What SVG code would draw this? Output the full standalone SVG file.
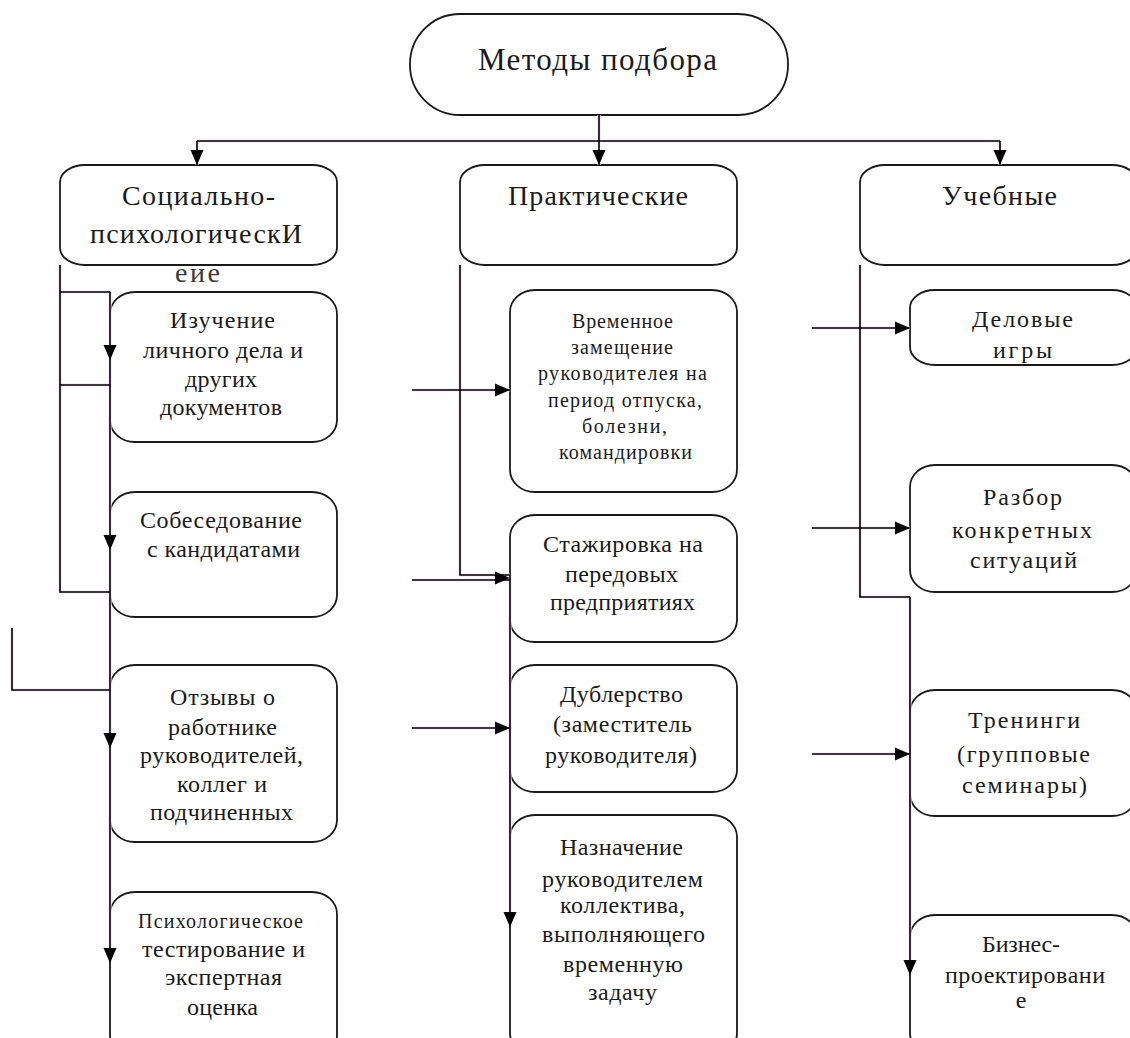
<svg xmlns="http://www.w3.org/2000/svg" xmlns:xlink="http://www.w3.org/1999/xlink" width="1130" height="1038" viewBox="0 0 1130 1038">
<style>
  .box { fill: #ffffff; stroke: #1a1a1a; stroke-width: 1.8; }
  .t { font-family: "Liberation Serif", "DejaVu Serif", serif; fill: #1a1a1a; text-anchor: middle; }
  .t30 { font-size: 31px; }
  .t26 { font-size: 28px; }
  .t22 { font-size: 24px; }
  .t20 { font-size: 20px; }
  .ghost { fill: #3a3a3a; }
  .ink { fill: none; stroke: #000000; stroke-width: 1.6; }
  .halo { fill: none; stroke: #f7dff7; stroke-width: 3.2; }
  .ah { fill: #000000; }
</style>
<defs>
  <path id="ahD" d="M0,0 L-6.5,-15 L6.5,-15 Z"/>
  <path id="ahR" d="M0,0 L-15,-6.5 L-15,6.5 Z"/>
</defs>

<g id="n-root">
  <rect class="box" x="410" y="14" width="378" height="101" rx="50" ry="50"/>
  <text class="t t30" x="597.5" y="70" textLength="239" lengthAdjust="spacing">Методы подбора</text>
</g>

<g id="n-social">
  <rect class="box" x="60" y="165" width="277" height="100" rx="25" ry="17"/>
  <text class="t t26" x="198.5" y="205" textLength="153" lengthAdjust="spacing">Социально-</text>
  <text class="t t26" x="196" y="243" textLength="212" lengthAdjust="spacing">психологическИ</text>
  <text class="t t26 ghost" x="197.5" y="282" textLength="45" lengthAdjust="spacing">еие</text>
</g>

<g id="n-practical">
  <rect class="box" x="460" y="165" width="277" height="100" rx="25" ry="17"/>
  <text class="t t26" x="598" y="205" textLength="180" lengthAdjust="spacing">Практические</text>
</g>

<g id="n-study">
  <rect class="box" x="860" y="165" width="277" height="100" rx="25" ry="17"/>
  <text class="t t26" x="999.5" y="205" textLength="115" lengthAdjust="spacing">Учебные</text>
</g>

<g id="n-docs">
  <rect class="box" x="110" y="292" width="227" height="150" rx="25" ry="22"/>
  <text class="t t22" x="222.5" y="328" textLength="105" lengthAdjust="spacing">Изучение</text>
  <text class="t t22" x="223" y="358" textLength="160" lengthAdjust="spacing">личного дела и</text>
  <text class="t t22" x="221" y="387" textLength="72" lengthAdjust="spacing">других</text>
  <text class="t t22" x="221" y="415" textLength="122" lengthAdjust="spacing">документов</text>
</g>

<g id="n-interview">
  <rect class="box" x="110" y="492" width="227" height="125" rx="25" ry="22"/>
  <text class="t t22" x="221" y="528" textLength="162" lengthAdjust="spacing">Собеседование</text>
  <text class="t t22" x="223.5" y="557" textLength="153" lengthAdjust="spacing">с кандидатами</text>
</g>

<g id="n-reviews">
  <rect class="box" x="110" y="665" width="227" height="177" rx="25" ry="22"/>
  <text class="t t22" x="222.5" y="705" textLength="105" lengthAdjust="spacing">Отзывы о</text>
  <text class="t t22" x="222.5" y="735" textLength="109" lengthAdjust="spacing">работнике</text>
  <text class="t t22" x="221.5" y="763" textLength="163" lengthAdjust="spacing">руководителей,</text>
  <text class="t t22" x="222" y="792" textLength="90" lengthAdjust="spacing">коллег и</text>
  <text class="t t22" x="221.5" y="820" textLength="143" lengthAdjust="spacing">подчиненных</text>
</g>

<g id="n-testing">
  <rect class="box" x="110" y="892" width="227" height="165" rx="25" ry="22"/>
  <text class="t t20" x="220.5" y="928" textLength="165" lengthAdjust="spacing">Психологическое</text>
  <text class="t t22" x="223.5" y="957" textLength="163" lengthAdjust="spacing">тестирование и</text>
  <text class="t t22" x="223.5" y="985" textLength="117" lengthAdjust="spacing">экспертная</text>
  <text class="t t22" x="222.5" y="1015" textLength="71" lengthAdjust="spacing">оценка</text>
</g>

<g id="n-substitute">
  <rect class="box" x="510" y="290" width="227" height="202" rx="25" ry="22"/>
  <text class="t t20" x="622.5" y="328" textLength="101" lengthAdjust="spacing">Временное</text>
  <text class="t t20" x="622" y="354" textLength="102" lengthAdjust="spacing">замещение</text>
  <text class="t t20" x="622.5" y="380" textLength="169" lengthAdjust="spacing">руководителея на</text>
  <text class="t t20" x="625" y="407" textLength="154" lengthAdjust="spacing">период отпуска,</text>
  <text class="t t20" x="624.5" y="433" textLength="85" lengthAdjust="spacing">болезни,</text>
  <text class="t t20" x="625.5" y="459" textLength="133" lengthAdjust="spacing">командировки</text>
</g>

<g id="n-internship">
  <rect class="box" x="510" y="515" width="227" height="127" rx="25" ry="22"/>
  <text class="t t22" x="623" y="552" textLength="160" lengthAdjust="spacing">Стажировка на</text>
  <text class="t t22" x="621.5" y="582" textLength="113" lengthAdjust="spacing">передовых</text>
  <text class="t t22" x="622.5" y="610" textLength="145" lengthAdjust="spacing">предприятиях</text>
</g>

<g id="n-understudy">
  <rect class="box" x="510" y="665" width="227" height="127" rx="25" ry="22"/>
  <text class="t t22" x="621.5" y="702" textLength="123" lengthAdjust="spacing">Дублерство</text>
  <text class="t t22" x="622.5" y="732" textLength="139" lengthAdjust="spacing">(заместитель</text>
  <text class="t t22" x="621" y="763" textLength="152" lengthAdjust="spacing">руководителя)</text>
</g>

<g id="n-assignment">
  <rect class="box" x="510" y="815" width="227" height="240" rx="25" ry="22"/>
  <text class="t t22" x="621.5" y="855" textLength="123" lengthAdjust="spacing">Назначение</text>
  <text class="t t22" x="622.5" y="887" textLength="161" lengthAdjust="spacing">руководителем</text>
  <text class="t t22" x="622.5" y="913" textLength="125" lengthAdjust="spacing">коллектива,</text>
  <text class="t t22" x="623.5" y="942" textLength="163" lengthAdjust="spacing">выполняющего</text>
  <text class="t t22" x="623" y="972" textLength="120" lengthAdjust="spacing">временную</text>
  <text class="t t22" x="622.5" y="1000" textLength="69" lengthAdjust="spacing">задачу</text>
</g>

<g id="n-games">
  <rect class="box" x="910" y="290" width="227" height="75" rx="25" ry="18"/>
  <text class="t t22" x="1022.5" y="327" textLength="101" lengthAdjust="spacing">Деловые</text>
  <text class="t t22" x="1022.5" y="358" textLength="59" lengthAdjust="spacing">игры</text>
</g>

<g id="n-cases">
  <rect class="box" x="910" y="465" width="227" height="127" rx="25" ry="22"/>
  <text class="t t22" x="1022.5" y="505" textLength="79" lengthAdjust="spacing">Разбор</text>
  <text class="t t22" x="1022" y="538" textLength="140" lengthAdjust="spacing">конкретных</text>
  <text class="t t22" x="1023.5" y="568" textLength="107" lengthAdjust="spacing">ситуаций</text>
</g>

<g id="n-trainings">
  <rect class="box" x="910" y="690" width="227" height="126" rx="25" ry="22"/>
  <text class="t t22" x="1024" y="728" textLength="112" lengthAdjust="spacing">Тренинги</text>
  <text class="t t22" x="1023.5" y="762" textLength="133" lengthAdjust="spacing">(групповые</text>
  <text class="t t22" x="1024.5" y="793" textLength="125" lengthAdjust="spacing">семинары)</text>
</g>

<g id="n-business">
  <rect class="box" x="910" y="915" width="227" height="140" rx="25" ry="22"/>
  <text class="t t22" x="1021" y="952" textLength="78" lengthAdjust="spacing">Бизнес-</text>
  <text class="t t22" x="1025" y="983" textLength="160" lengthAdjust="spacing">проектировани</text>
  <text class="t t22" x="1021" y="1008">е</text>
</g>

<g id="connectors">
  <g class="halo"><use xlink:href="#wires" href="#wires"/></g>
  <g class="ink">
    <g id="wires">
      <path d="M599,115 V165"/>
      <path d="M197,141 H1000"/>
      <path d="M197,141 V165"/>
      <path d="M1000,141 V165"/>
      <path d="M60,265 V592 H110"/>
      <path d="M60,292 H110"/>
      <path d="M60,385 H110"/>
      <path d="M110,292 V963"/>
      <path d="M12,628 V690 H110"/>
      <path d="M460,265 V575 H510"/>
      <path d="M510,575 V927"/>
      <path d="M412,390 H510"/>
      <path d="M412,580 H510"/>
      <path d="M412,728 H510"/>
      <path d="M860,265 V597 H910"/>
      <path d="M910,597 V975"/>
      <path d="M812,328 H910"/>
      <path d="M812,528 H910"/>
      <path d="M812,754 H910"/>
    </g>
  </g>
  <g class="ah">
    <use href="#ahD" x="599" y="165"/>
    <use href="#ahD" x="197" y="165"/>
    <use href="#ahD" x="1000" y="165"/>
    <use href="#ahD" x="110" y="360"/>
    <use href="#ahD" x="110" y="550"/>
    <use href="#ahD" x="110" y="748"/>
    <use href="#ahD" x="110" y="963"/>
    <use href="#ahD" x="510" y="927"/>
    <use href="#ahD" x="910" y="975"/>
    <use href="#ahR" x="510" y="390"/>
    <use href="#ahR" x="510" y="578"/>
    <use href="#ahR" x="510" y="728"/>
    <use href="#ahR" x="910" y="328"/>
    <use href="#ahR" x="910" y="528"/>
    <use href="#ahR" x="910" y="754"/>
  </g>
</g>
</svg>
